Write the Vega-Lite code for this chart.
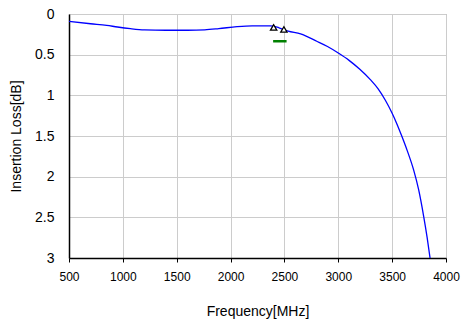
{
  "$schema": "https://vega.github.io/schema/vega-lite/v6.json",
  "autosize": {"type": "none"},
  "padding": {"left": 69, "top": 14, "right": 15, "bottom": 66},
  "width": 377,
  "height": 244,
  "background": "white",
  "config": {
    "font": "Liberation Sans",
    "view": {"stroke": "#a0a0a0", "strokeWidth": 1},
    "axis": {"labelColor": "black", "titleColor": "black", "titleFontWeight": "normal", "gridColor": "#cccccc", "gridWidth": 1, "domainColor": "black", "domainWidth": 1.5, "tickColor": "black"}
  },
  "datasets": {
    "curve": [
      {"f": 500, "il": 0.09},
      {"f": 700, "il": 0.12},
      {"f": 850, "il": 0.14},
      {"f": 950, "il": 0.16},
      {"f": 1070, "il": 0.18},
      {"f": 1200, "il": 0.195},
      {"f": 1400, "il": 0.2},
      {"f": 1600, "il": 0.2},
      {"f": 1760, "il": 0.195},
      {"f": 1890, "il": 0.18},
      {"f": 2060, "il": 0.155},
      {"f": 2200, "il": 0.145},
      {"f": 2370, "il": 0.145},
      {"f": 2450, "il": 0.17},
      {"f": 2535, "il": 0.21},
      {"f": 2650, "il": 0.245},
      {"f": 2800, "il": 0.335},
      {"f": 2900, "il": 0.4},
      {"f": 3000, "il": 0.48},
      {"f": 3100, "il": 0.57},
      {"f": 3200, "il": 0.68},
      {"f": 3300, "il": 0.81},
      {"f": 3370, "il": 0.92},
      {"f": 3437, "il": 1.06},
      {"f": 3500, "il": 1.22},
      {"f": 3550, "il": 1.37},
      {"f": 3592, "il": 1.51},
      {"f": 3640, "il": 1.68},
      {"f": 3700, "il": 1.92},
      {"f": 3746, "il": 2.16},
      {"f": 3793, "il": 2.49},
      {"f": 3824, "il": 2.74},
      {"f": 3852, "il": 3.0}
    ],
    "markers": [
      {"f": 2400, "il": 0.165},
      {"f": 2495, "il": 0.19}
    ],
    "spec": [
      {"f": 2395, "il": 0.335},
      {"f": 2520, "il": 0.335}
    ]
  },
  "encoding": {
    "x": {
      "field": "f", "type": "quantitative",
      "scale": {"domain": [500, 4000], "nice": false, "zero": false},
      "axis": {
        "values": [500, 1000, 1500, 2000, 2500, 3000, 3500, 4000], "format": "d",
        "title": "Frequency[MHz]", "titleFontSize": 14,
        "titleX": 188.5, "titleY": 53, "titleBaseline": "middle", "titleAnchor": "middle",
        "labelFontSize": 12, "labelPadding": 9, "tickSize": 4, "labelFlush": false
      }
    },
    "y": {
      "field": "il", "type": "quantitative",
      "scale": {"domain": [0, 3], "reverse": true, "nice": false},
      "axis": {
        "values": [0, 0.5, 1, 1.5, 2, 2.5, 3], "format": "~g",
        "title": "Insertion Loss[dB]", "titleFontSize": 14,
        "titleX": -53, "titleY": 122, "titleAngle": -90, "titleBaseline": "middle", "titleAnchor": "middle",
        "labelFontSize": 14, "labelPadding": 15, "ticks": false
      }
    }
  },
  "layer": [
    {"data": {"name": "curve"}, "mark": {"type": "line", "color": "#0000ff", "strokeWidth": 1.3, "clip": true, "interpolate": "monotone"}},
    {"data": {"name": "spec"}, "mark": {"type": "line", "color": "#008000", "strokeWidth": 2.5}},
    {"data": {"name": "markers"}, "mark": {"type": "point", "shape": "triangle-up", "size": 40, "filled": true, "fill": "white", "stroke": "black", "strokeWidth": 1.3, "opacity": 1}}
  ]
}
